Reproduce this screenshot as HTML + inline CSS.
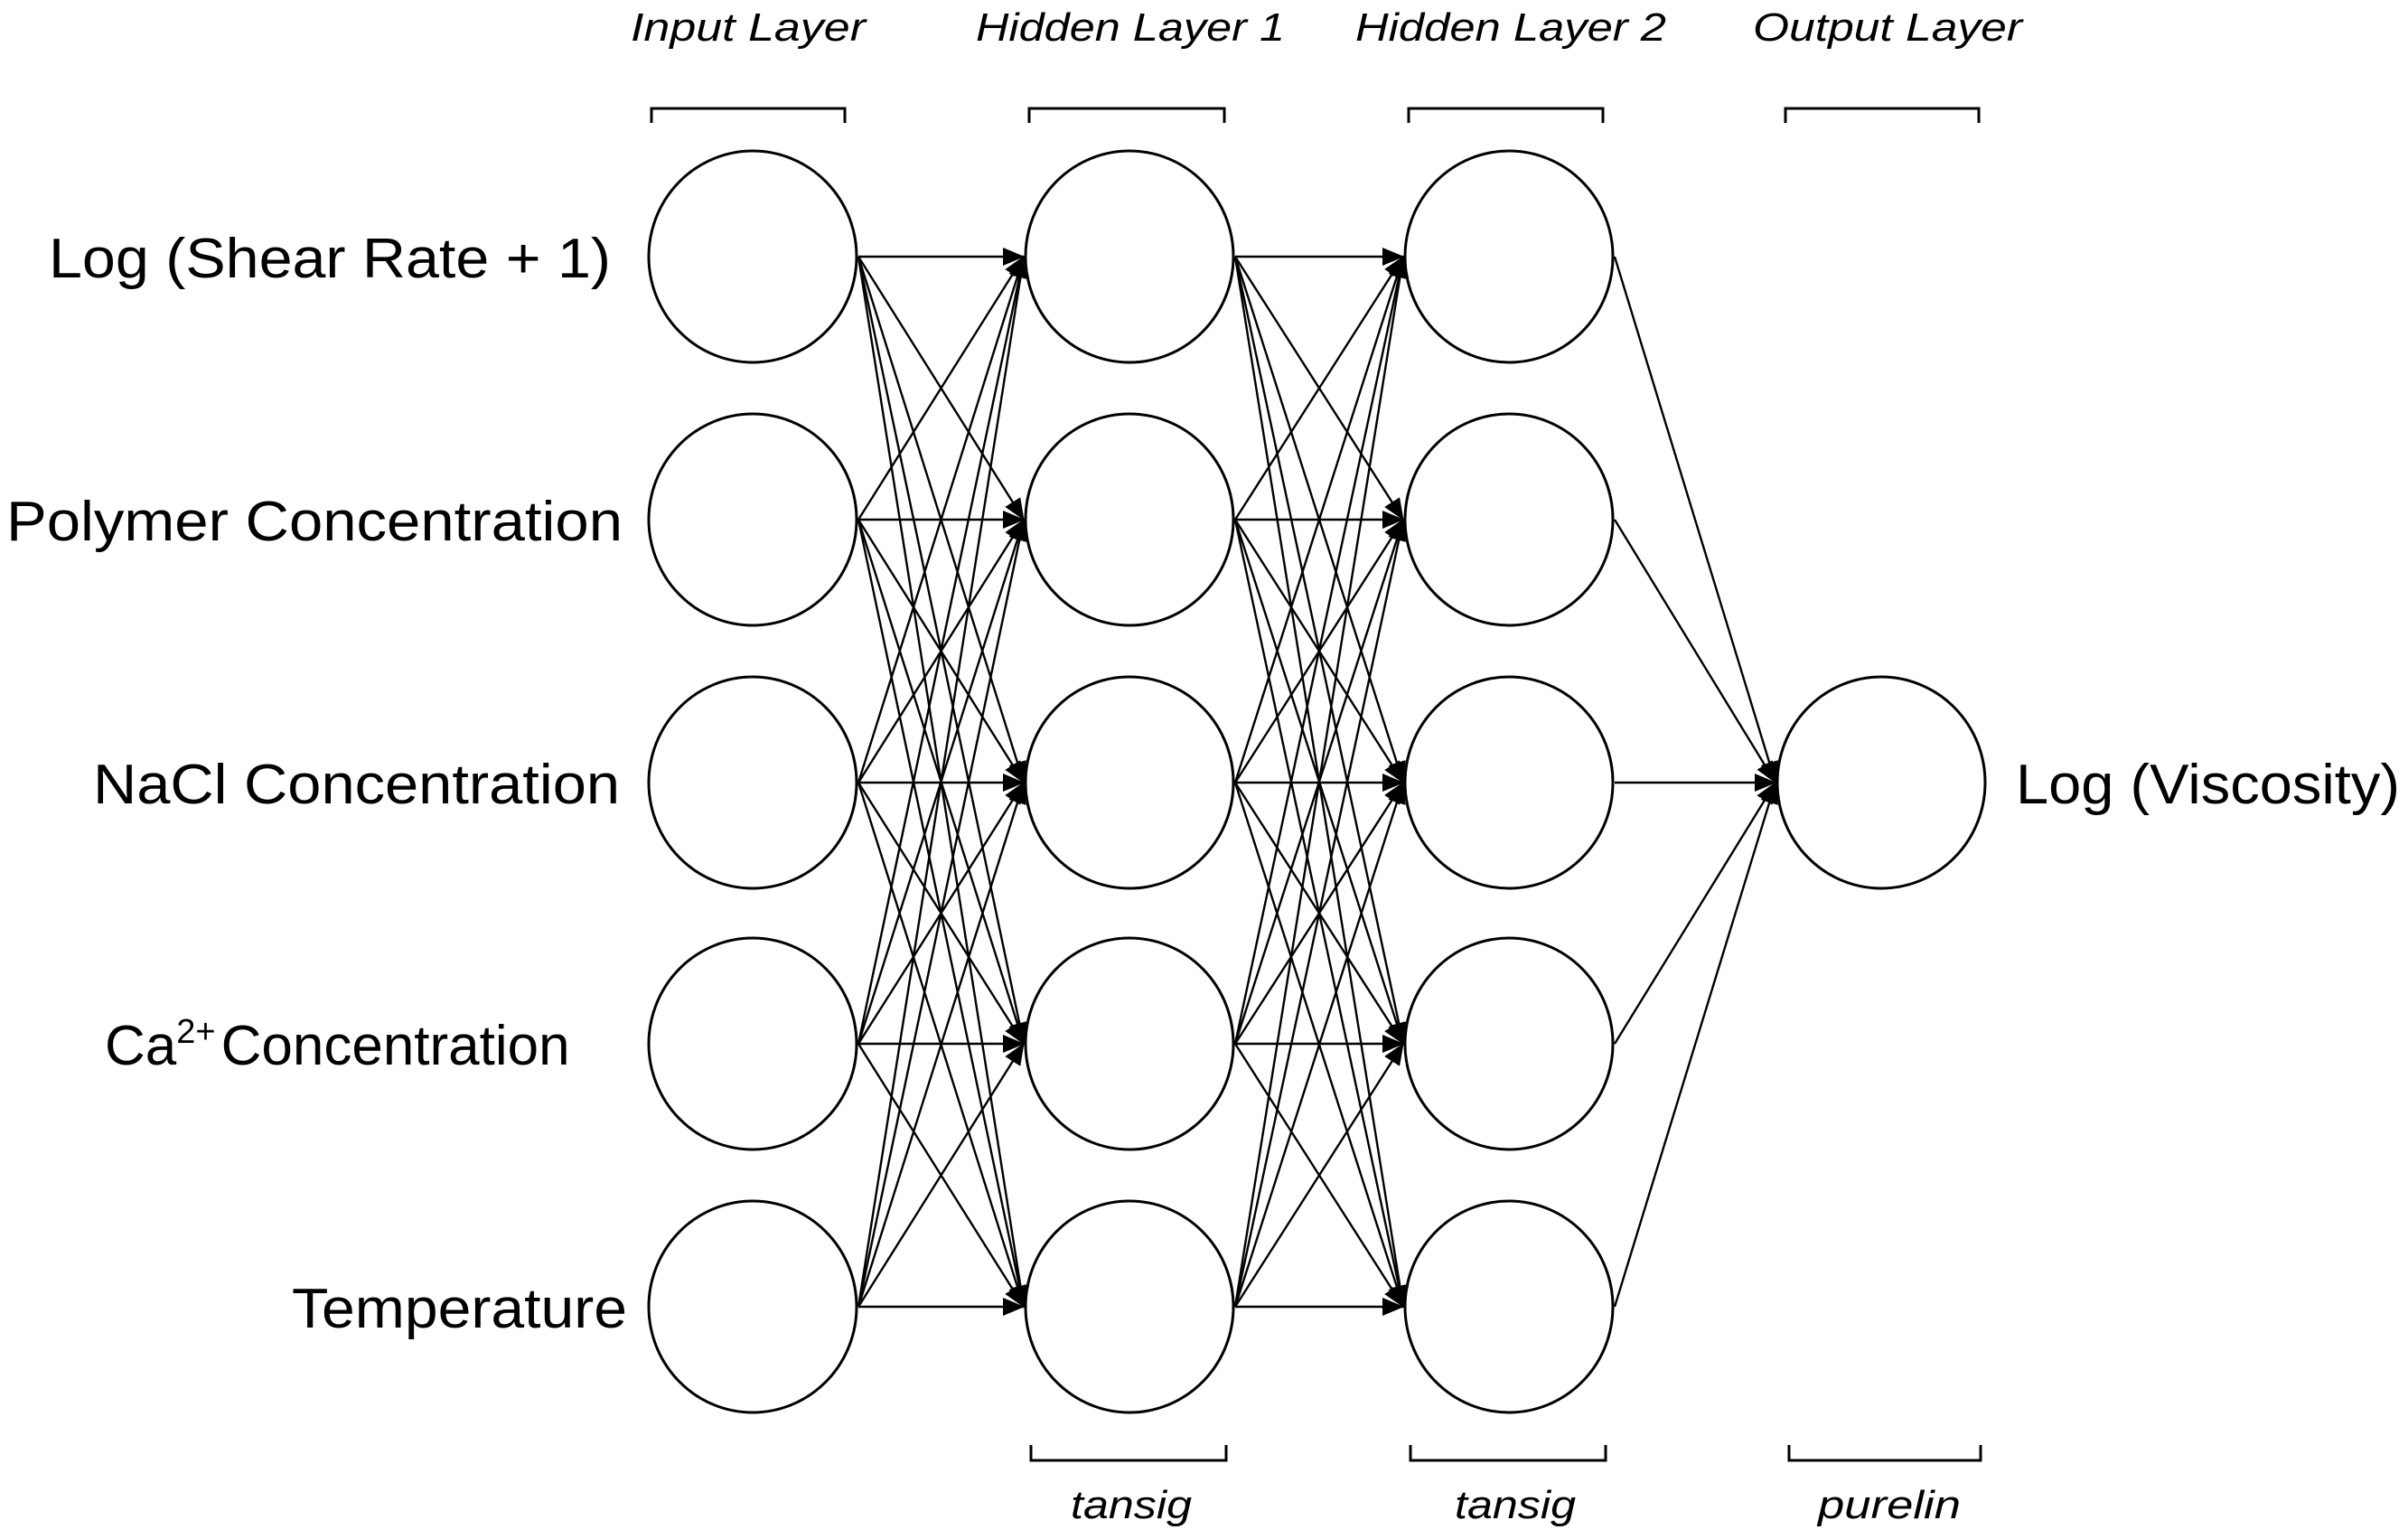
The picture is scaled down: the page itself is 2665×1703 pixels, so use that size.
<!DOCTYPE html>
<html><head><meta charset="utf-8"><style>
html,body{margin:0;padding:0;background:#fff;}
svg{display:block;}
text{font-family:"Liberation Sans","DejaVu Sans",sans-serif;fill:#000;}
</style></head><body>
<svg width="2665" height="1703" viewBox="0 0 2665 1703" xmlns="http://www.w3.org/2000/svg">
<defs>
<marker id="a" markerWidth="24" markerHeight="20" refX="23" refY="10" orient="auto" markerUnits="userSpaceOnUse" viewBox="0 0 24 20">
<path d="M0,0 L24,10 L0,20 z" fill="#000"/>
</marker>
</defs>
<g stroke="#000" stroke-width="2.4" fill="none" marker-end="url(#a)">
<line x1="950" y1="284" x2="1133" y2="284"/><line x1="950" y1="284" x2="1133" y2="575"/><line x1="950" y1="284" x2="1133" y2="866"/><line x1="950" y1="284" x2="1133" y2="1155"/><line x1="950" y1="284" x2="1133" y2="1446"/>
<line x1="950" y1="575" x2="1133" y2="284"/><line x1="950" y1="575" x2="1133" y2="575"/><line x1="950" y1="575" x2="1133" y2="866"/><line x1="950" y1="575" x2="1133" y2="1155"/><line x1="950" y1="575" x2="1133" y2="1446"/>
<line x1="950" y1="866" x2="1133" y2="284"/><line x1="950" y1="866" x2="1133" y2="575"/><line x1="950" y1="866" x2="1133" y2="866"/><line x1="950" y1="866" x2="1133" y2="1155"/><line x1="950" y1="866" x2="1133" y2="1446"/>
<line x1="950" y1="1155" x2="1133" y2="284"/><line x1="950" y1="1155" x2="1133" y2="575"/><line x1="950" y1="1155" x2="1133" y2="866"/><line x1="950" y1="1155" x2="1133" y2="1155"/><line x1="950" y1="1155" x2="1133" y2="1446"/>
<line x1="950" y1="1446" x2="1133" y2="284"/><line x1="950" y1="1446" x2="1133" y2="575"/><line x1="950" y1="1446" x2="1133" y2="866"/><line x1="950" y1="1446" x2="1133" y2="1155"/><line x1="950" y1="1446" x2="1133" y2="1446"/>
<line x1="1367" y1="284" x2="1553" y2="284"/><line x1="1367" y1="284" x2="1553" y2="575"/><line x1="1367" y1="284" x2="1553" y2="866"/><line x1="1367" y1="284" x2="1553" y2="1155"/><line x1="1367" y1="284" x2="1553" y2="1446"/>
<line x1="1367" y1="575" x2="1553" y2="284"/><line x1="1367" y1="575" x2="1553" y2="575"/><line x1="1367" y1="575" x2="1553" y2="866"/><line x1="1367" y1="575" x2="1553" y2="1155"/><line x1="1367" y1="575" x2="1553" y2="1446"/>
<line x1="1367" y1="866" x2="1553" y2="284"/><line x1="1367" y1="866" x2="1553" y2="575"/><line x1="1367" y1="866" x2="1553" y2="866"/><line x1="1367" y1="866" x2="1553" y2="1155"/><line x1="1367" y1="866" x2="1553" y2="1446"/>
<line x1="1367" y1="1155" x2="1553" y2="284"/><line x1="1367" y1="1155" x2="1553" y2="575"/><line x1="1367" y1="1155" x2="1553" y2="866"/><line x1="1367" y1="1155" x2="1553" y2="1155"/><line x1="1367" y1="1155" x2="1553" y2="1446"/>
<line x1="1367" y1="1446" x2="1553" y2="284"/><line x1="1367" y1="1446" x2="1553" y2="575"/><line x1="1367" y1="1446" x2="1553" y2="866"/><line x1="1367" y1="1446" x2="1553" y2="1155"/><line x1="1367" y1="1446" x2="1553" y2="1446"/>
<line x1="1787" y1="284" x2="1965" y2="866"/><line x1="1787" y1="575" x2="1965" y2="866"/><line x1="1787" y1="866" x2="1965" y2="866"/><line x1="1787" y1="1155" x2="1965" y2="866"/><line x1="1787" y1="1446" x2="1965" y2="866"/>
</g>
<g stroke="#000" stroke-width="3" fill="none">
<ellipse cx="833" cy="284" rx="115" ry="117"/><ellipse cx="833" cy="575" rx="115" ry="117"/><ellipse cx="833" cy="866" rx="115" ry="117"/><ellipse cx="833" cy="1155" rx="115" ry="117"/><ellipse cx="833" cy="1446" rx="115" ry="117"/>
<ellipse cx="1250" cy="284" rx="115" ry="117"/><ellipse cx="1250" cy="575" rx="115" ry="117"/><ellipse cx="1250" cy="866" rx="115" ry="117"/><ellipse cx="1250" cy="1155" rx="115" ry="117"/><ellipse cx="1250" cy="1446" rx="115" ry="117"/>
<ellipse cx="1670" cy="284" rx="115" ry="117"/><ellipse cx="1670" cy="575" rx="115" ry="117"/><ellipse cx="1670" cy="866" rx="115" ry="117"/><ellipse cx="1670" cy="1155" rx="115" ry="117"/><ellipse cx="1670" cy="1446" rx="115" ry="117"/>
<ellipse cx="2082" cy="866" rx="115" ry="117"/>
<path d="M721,136 V120 H935 V136"/><path d="M1139,136 V120 H1355 V136"/><path d="M1559,136 V120 H1774 V136"/><path d="M1976,136 V120 H2190 V136"/>
<path d="M1141,1599 V1616 H1357 V1599"/><path d="M1561,1599 V1616 H1777 V1599"/><path d="M1980,1599 V1616 H2192 V1599"/>
</g>
<g font-style="italic" font-size="44" lengthAdjust="spacingAndGlyphs">
<text x="698" y="45" textLength="260" lengthAdjust="spacingAndGlyphs">Input Layer</text>
<text x="1080" y="45" textLength="342" lengthAdjust="spacingAndGlyphs">Hidden Layer 1</text>
<text x="1500" y="45" textLength="344" lengthAdjust="spacingAndGlyphs">Hidden Layer 2</text>
<text x="1940" y="45" textLength="298" lengthAdjust="spacingAndGlyphs">Output Layer</text>
<text x="1185" y="1680" textLength="134" lengthAdjust="spacingAndGlyphs">tansig</text>
<text x="1610" y="1680" textLength="134" lengthAdjust="spacingAndGlyphs">tansig</text>
<text x="2012" y="1680" textLength="158" lengthAdjust="spacingAndGlyphs">purelin</text>
</g>
<g font-size="62">
<text x="54" y="307" textLength="622" lengthAdjust="spacingAndGlyphs">Log (Shear Rate + 1)</text>
<text x="7" y="598" textLength="682" lengthAdjust="spacingAndGlyphs">Polymer Concentration</text>
<text x="103" y="889" textLength="583" lengthAdjust="spacingAndGlyphs">NaCl Concentration</text>
<text x="116" y="1178">Ca<tspan font-size="38" dy="-24">2+</tspan><tspan dy="24" dx="6">Concentration</tspan></text>
<text x="323" y="1469" textLength="371" lengthAdjust="spacingAndGlyphs">Temperature</text>
<text x="2231" y="889" textLength="425" lengthAdjust="spacingAndGlyphs">Log (Viscosity)</text>
</g>
</svg>
</body></html>
